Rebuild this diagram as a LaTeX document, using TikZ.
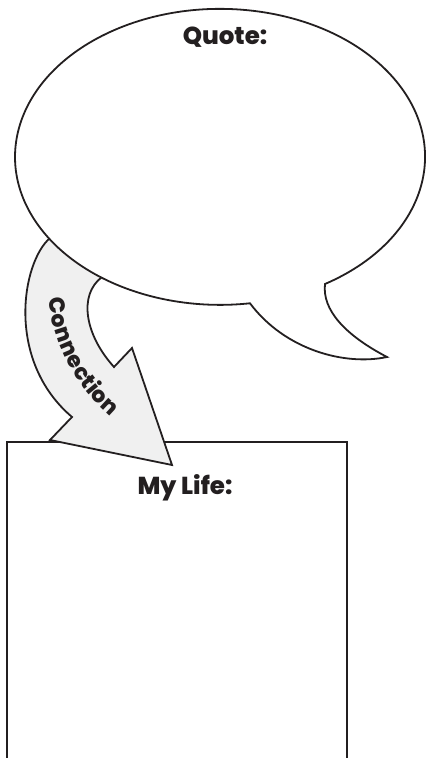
\documentclass[tikz,border=0pt]{standalone}
\usepackage{fontspec}
\setmainfont{Poppins}[BoldFont={Poppins ExtraBold}]
\usetikzlibrary{decorations.text}
\definecolor{ink}{HTML}{231F20}
\definecolor{arrowfill}{HTML}{F0F0F0}
\tikzset{
  outline/.style={draw=ink, line width=1.8pt, line join=miter},
  lbl/.style={font=\bfseries\fontsize{24.5}{27}\selectfont, text=ink, inner sep=0pt}
}
\begin{document}
\begin{tikzpicture}[x=1pt,y=1pt]
\useasboundingbox (0,0) rectangle (430,758);
\clip (0,0) rectangle (430,758);
% box
\draw[outline, fill=white] (7,-20) -- (7,316) -- (347,316) -- (347,-20);
% arrow
\coordinate (oa) at (50,520);
\coordinate (ob) at (72,341);
\coordinate (bl) at (50,318);
\coordinate (tip) at (172,293);
\coordinate (br) at (132,410);
\coordinate (ib) at (114,391);
\coordinate (ia) at (102,481);
\draw[outline, fill=arrowfill] (oa) .. controls (22,496) and (5,398) .. (ob)
  -- (bl) -- (tip) -- (br) -- (ib) .. controls (85,423) and (78,463) .. (ia) -- cycle;
% bubble
\coordinate (c) at (220,601);
\coordinate (tA) at (250,456);
\coordinate (tip2) at (387,401);
\coordinate (tB) at (325,474);
\draw[outline, fill=white] (tB) arc[start angle=-59.2, end angle=278.4, x radius=205, y radius=148]
  .. controls (285,408) and (345,392) .. (tip2)
  .. controls (345,423) and (322,448) .. (tB) -- cycle;
% texts
\node[lbl] (quote) at (225,721) {Quote:};
\node[lbl] (life) at (185,270) {My Life:};
\path[decorate, decoration={text along path, text align=center, raise=-6.5pt,
  text={|\bfseries\fontsize{22}{22}\selectfont\color{ink}|Connection}}]
  (54,472) .. controls (57,418) and (80,373) .. (124,339);
\end{tikzpicture}
\end{document}
